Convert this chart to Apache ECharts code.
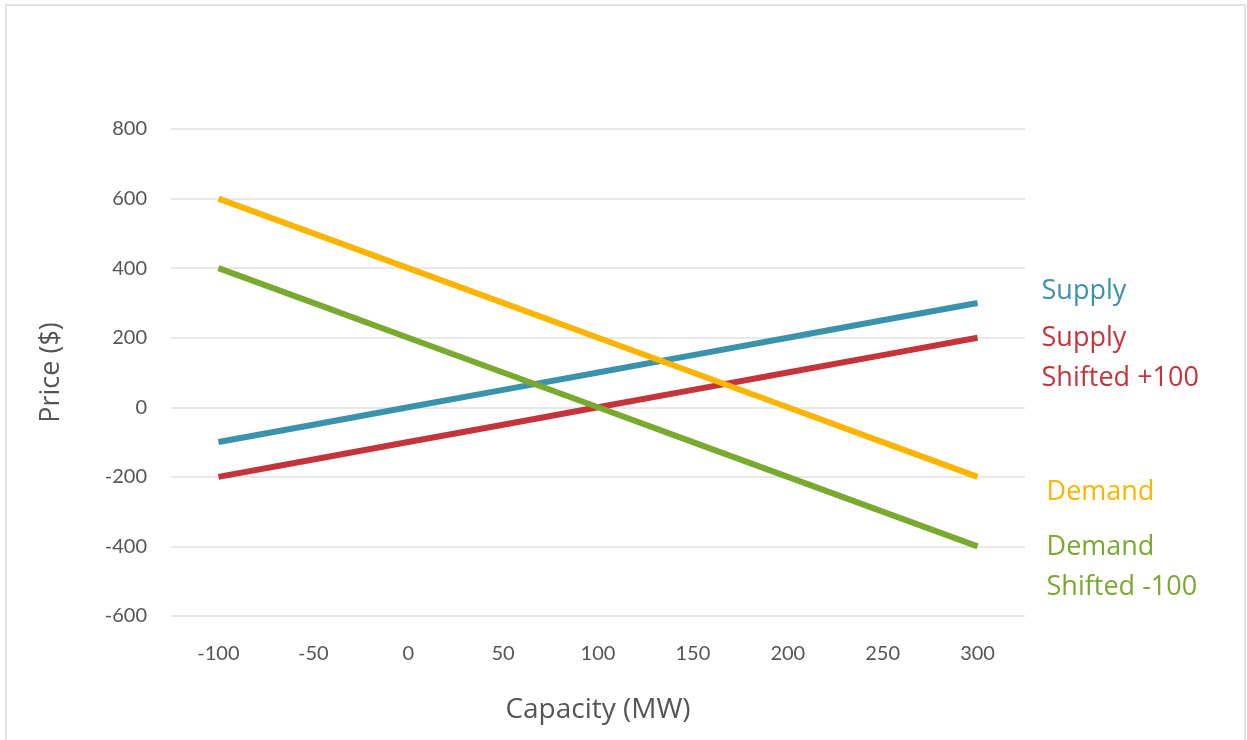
<!DOCTYPE html>
<html><head><meta charset="utf-8">
<script src="https://cdn.jsdelivr.net/npm/echarts@6/dist/echarts.min.js"></script>
<style>html,body{margin:0;padding:0;background:#fff}#c{width:1247px;height:740px}</style>
</head><body><div id="c"></div>
<script>
const categories = ['-100','-50','0','50','100','150','200','250','300'];
const supply = [-100,-50,0,50,100,150,200,250,300];
const supplyShifted = [-200,-150,-100,-50,0,50,100,150,200];
const demand = [600,500,400,300,200,100,0,-100,-200];
const demandShifted = [400,300,200,100,0,-100,-200,-300,-400];
const seriesNames = ['Supply','Supply\nShifted +100','Demand','Demand\nShifted -100'];
const colors = ['#3a92ab','#c5343a','#fbb400','#79a92f'];
const offsets = [[56,-12],[56,21],[61,15],[61,21]];
const FONT = 'Lato, "Open Sans", sans-serif';
const FONT2 = '"Open Sans", Lato, sans-serif';
const chart = echarts.init(document.getElementById('c'));
const data = [supply, supplyShifted, demand, demandShifted];
chart.setOption({
  animation:false,
  graphic:[{type:'rect',shape:{x:6,y:5,width:1239,height:760},style:{fill:'none',stroke:'#e2e2e2',lineWidth:2},silent:true}],
  grid:{left:171,right:222,top:129,bottom:124},
  xAxis:{type:'category',data:categories,boundaryGap:true,
    axisLine:{show:false},axisTick:{show:false},
    axisLabel:{color:'#555',fontSize:20,fontFamily:FONT,margin:28},
    name:'Capacity (MW)',nameLocation:'middle',nameGap:80,
    nameTextStyle:{color:'#555',fontSize:28,fontFamily:FONT2}},
  yAxis:{type:'value',min:-600,max:800,interval:200,
    axisLine:{show:false},axisTick:{show:false},
    splitLine:{lineStyle:{color:'#e8e8e8',width:2}},
    axisLabel:{color:'#555',fontSize:20,fontFamily:FONT,margin:24},
    name:'Price ($)',nameLocation:'middle',nameGap:106,
    nameTextStyle:{color:'#555',fontSize:27,fontFamily:FONT2}},
  series:data.map((d,i)=>({
    type:'line',name:seriesNames[i],data:d,showSymbol:false,symbol:'none',
    lineStyle:{color:colors[i],width:6},itemStyle:{color:colors[i]},
    endLabel:{show:true,formatter:seriesNames[i],color:colors[i],fontSize:27,
      fontFamily:FONT2,lineHeight:40,offset:offsets[i]}
  }))
});
</script></body></html>
